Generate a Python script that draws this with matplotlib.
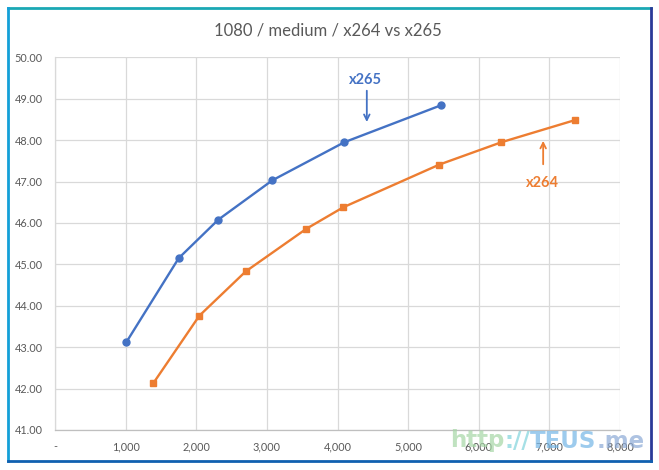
import matplotlib.pyplot as plt
import matplotlib.ticker as mticker
from matplotlib.lines import Line2D

# bitrate (kbps) vs PSNR (dB)
x265_rate = [1010, 1752, 2313, 3078, 4098, 5463]
x265_psnr = [43.12, 45.15, 46.08, 47.03, 47.95, 48.84]
x264_rate = [1392, 2044, 2701, 3560, 4084, 5443, 6322, 7356]
x264_psnr = [42.13, 43.76, 44.83, 45.86, 46.38, 47.41, 47.95, 48.48]

title = '1080 / medium / x264 vs x265'
blue = '#4472C4'
orange = '#ED7D31'
grey_txt = '#595959'

plt.rcParams['font.family'] = ['Lato', 'DejaVu Sans']

fig = plt.figure(figsize=(6.59, 4.70), dpi=100)
ax = fig.add_axes([55 / 659, 40 / 470, 565 / 659, 372.7 / 470])

ax.plot(x265_rate, x265_psnr, color=blue, lw=1.7, marker='o', ms=5, zorder=3)
ax.plot(x264_rate, x264_psnr, color=orange, lw=1.7, marker='s', ms=5, zorder=3)

ax.set_xlim(0, 8000)
ax.set_ylim(41, 50)
ax.xaxis.set_major_locator(mticker.MultipleLocator(1000))
ax.yaxis.set_major_locator(mticker.MultipleLocator(1))
ax.xaxis.set_major_formatter(mticker.FuncFormatter(
    lambda v, p: '-' if v == 0 else '{:,.0f}'.format(v)))
ax.yaxis.set_major_formatter(mticker.FormatStrFormatter('%.2f'))
ax.grid(True, color='#D9D9D9', lw=0.9)
ax.set_axisbelow(True)
for s in ['top', 'right']:
    ax.spines[s].set_visible(False)
ax.spines['left'].set_color('#D9D9D9')
ax.spines['left'].set_linewidth(0.9)
ax.spines['bottom'].set_color('#BFBFBF')
ax.spines['bottom'].set_linewidth(0.9)
ax.tick_params(length=0, labelsize=7.8, colors=grey_txt, pad=8)
ax.tick_params(axis='y', pad=9)

# annotations
ax.annotate('', xy=(4415, 48.37), xytext=(4415, 49.26),
            arrowprops=dict(arrowstyle='->', color=blue, lw=1.3))
ax.text(4391, 49.45, 'x265', color=blue, fontsize=10.5, fontweight='bold',
        ha='center', va='center')
ax.annotate('', xy=(6912, 48.05), xytext=(6912, 47.35),
            arrowprops=dict(arrowstyle='->', color=orange, lw=1.3))
ax.text(6898, 46.97, 'x264', color=orange, fontsize=10.5, fontweight='bold',
        ha='center', va='center')

fig.text(328 / 659, 1 - 30 / 470, title, ha='center', va='center',
         fontsize=12, color=grey_txt)


# frame around the chart
def fx(px):
    return px / 659


def fy(py):
    return 1 - py / 470


fig.add_artist(Line2D([fx(8), fx(651)], [fy(8), fy(8)], color='#1AA8B4', lw=2))
fig.add_artist(Line2D([fx(8), fx(8)], [fy(8), fy(461)], color='#14A0D8', lw=2))
fig.add_artist(Line2D([fx(651), fx(651)], [fy(8), fy(461)], color='#2A3A98', lw=2))
fig.add_artist(Line2D([fx(8), fx(651)], [fy(461), fy(461)], color='#1060B0', lw=2))

# watermark, pieces placed one after another
wm = [('http', '#A6D6A6'), ('://', '#80D4DC'), ('TEUS', '#74B6E6'), ('.me', '#8CAAD6')]
renderer = fig.canvas.get_renderer()
px = 450
for s, c in wm:
    t = fig.text(fx(px), fy(441), s, color=c, alpha=0.7, fontsize=16.5,
                 fontweight='bold', family='DejaVu Sans', va='center', ha='left')
    px += t.get_window_extent(renderer).width

fig.savefig('out.png', dpi=100)
